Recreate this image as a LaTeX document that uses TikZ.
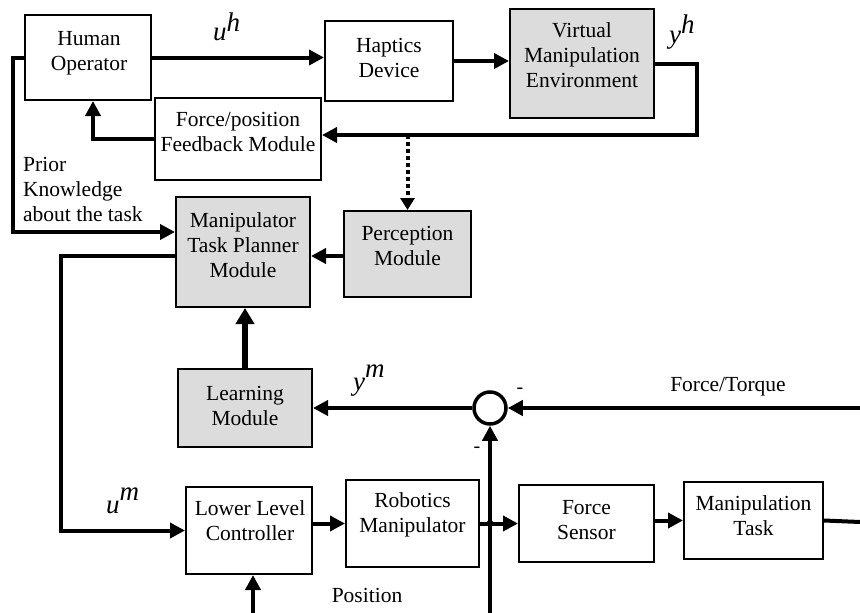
\documentclass[tikz,border=0pt]{standalone}
\usepackage{fontspec}
\setmainfont{Liberation Serif}
\usetikzlibrary{arrows.meta}
\definecolor{boxgray}{RGB}{220,220,220}
\begin{document}
\begin{tikzpicture}[x=1pt,y=-1pt,
  every node/.style={font=\fontsize{21.5}{25}\selectfont},
  blk/.style={draw, line width=2pt, inner sep=0pt},
  gblk/.style={blk, fill=boxgray},
  txt/.style={align=center, inner sep=0pt},
  conn/.style={line width=4pt},
  arr/.style={conn, -{Triangle[length=15pt,width=15pt]}},
  bigarr/.style={line width=6pt, -{Triangle[length=16pt,width=18pt]}},
  dotarr/.style={line width=4pt, dash pattern=on 4pt off 3pt, -{Triangle[length=12pt,width=14pt]}},
  mathlbl/.style={font=\fontsize{27}{27}\selectfont\itshape, inner sep=0pt, anchor=base west},
  minus/.style={font=\fontsize{20}{20}\selectfont, inner sep=0pt},
]
\useasboundingbox (0,0) rectangle (860,613);
% boxes
\node[blk, minimum width=126pt, minimum height=85pt] (ho) at (88,57.5) {};
\node[blk, minimum width=128pt, minimum height=80pt] (hd) at (389,61) {};
\node[gblk, minimum width=144pt, minimum height=109pt] (vme) at (582,63.5) {};
\node[blk, minimum width=166pt, minimum height=82pt] (fp) at (238,139) {};
\node[gblk, minimum width=134pt, minimum height=110pt] (mtp) at (243,252) {};
\node[gblk, minimum width=127pt, minimum height=86pt] (pm) at (407.5,254) {};
\node[gblk, minimum width=134pt, minimum height=78pt] (lm) at (245,408) {};
\node[blk, minimum width=126pt, minimum height=87pt] (llc) at (249,530.5) {};
\node[blk, minimum width=133pt, minimum height=87pt] (rm) at (412.5,523.5) {};
\node[blk, minimum width=135pt, minimum height=77pt] (fs) at (586.5,523.5) {};
\node[blk, minimum width=139pt, minimum height=77pt] (mt) at (753.5,520.5) {};
% box texts
\node[txt] (hot) at (89,53.5) {Human\\Operator};
\node[txt] (hdt) at (389,58) {Haptics\\Device};
\node[txt] (vmet) at (582,55.5) {Virtual\\Manipulation\\Environment};
\node[txt] (fpt) at (238,132) {Force/position\\Feedback Module};
\node[txt] (mtpt) at (243,245) {Manipulator\\Task Planner\\Module};
\node[txt] (pmt) at (407.5,246) {Perception\\Module};
\node[txt] (lmt) at (245,405.5) {Learning\\Module};
\node[txt] (llct) at (250,520.5) {Lower Level\\Controller};
\node[txt] (rmt) at (412.5,514.5) {Robotics\\Manipulator};
\node[txt] (fst) at (586.5,520.5) {Force\\Sensor};
\node[txt] (mtt) at (753.5,515.5) {Manipulation\\Task};
% summing junction
\node[circle, draw, line width=3.5pt, minimum size=32pt, inner sep=0pt] (sum) at (490,408) {};
% coordinates
\coordinate (c1) at (697,135);
\coordinate (l1) at (13,232);
\coordinate (l2a) at (61,256);
\coordinate (l2b) at (61,530.5);
\coordinate (ft) at (860,408);
\coordinate (vb) at (490,613);
\coordinate (jn) at (490,523.5);
\coordinate (mtr) at (860,522);
\coordinate (pb) at (253,613);
% connectors
\draw[arr] (ho.east) -- (ho.east -| hd.west);
\draw[arr] (hd.east) -- (hd.east -| vme.west);
\draw[arr, line join=miter] (vme.east) -| (c1) -- (c1 -| fp.east);
\draw[arr] (fp.west) -| ([xshift=5pt]ho.south);
\draw[dotarr] (pm.north |- c1) -- (pm.north);
\draw[arr] (ho.west) -| (l1) -- (l1 -| mtp.west);
\draw[arr] (pm.west |- l2a) -- (mtp.east |- l2a);
\draw[arr] (mtp.west |- l2a) -- (l2a) -- (l2b) -- (llc.west);
\draw[bigarr] (lm.north) -- (lm.north |- mtp.south);
\draw[arr] (sum.west) -- (sum.west -| lm.east);
\draw[arr] (ft) -- (sum.east);
\draw[arr] (vb) -- (sum.south);
\fill (jn) circle (3.5pt);
\draw[arr] (llc.east |- rm.west) -- (rm.west);
\draw[arr] (rm.east) -- (rm.east -| fs.west);
\draw[arr] (fs.east |- mt.west) -- (mt.west);
\draw[conn] (mt.east) -- (mtr);
\draw[arr] (pb) -- (pb |- llc.south);
% labels
\node[mathlbl] (uh) at (213,40) {u\raisebox{9pt}{h}};
\node[mathlbl] (yh) at (669,43) {y\raisebox{10pt}{h}};
\node[mathlbl] (ym) at (353,390) {y\raisebox{13pt}{m}};
\node[mathlbl] (um) at (106,513) {u\raisebox{13pt}{m}};
\node[minus] (m1) at (520,391) {-};
\node[minus] (m2) at (477,450) {-};
\node[inner sep=0pt, align=left, anchor=north west] (prior) at (23,157) {Prior\\Knowledge\\about the task};
\node[inner sep=0pt, anchor=base] (ftl) at (728,391) {Force/Torque};
\node[inner sep=0pt, anchor=base] (posl) at (367,602) {Position};
\end{tikzpicture}
\end{document}
